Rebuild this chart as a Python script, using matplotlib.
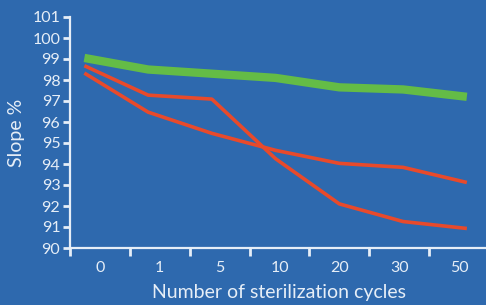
import matplotlib
import matplotlib.pyplot as plt
import numpy as np

matplotlib.rcParams['font.family'] = ['Lato', 'DejaVu Sans']

# ---------------- data ---------------- #
cycles = ['0', '1', '5', '10', '20', '30', '50']
green = [99.05, 98.5, 98.3, 98.1, 97.65, 97.55, 97.2]
red_a = [98.68, 97.28, 97.09, 94.25, 92.1, 91.26, 90.93]
red_b = [98.33, 96.47, 95.46, 94.65, 94.03, 93.84, 93.12]
yticks = list(range(90, 102))

bg = '#2E69AE'
fg = '#E6EEF7'

# ---------------- plot ---------------- #
fig = plt.figure(figsize=(4.86, 3.05), dpi=100, facecolor=bg)
ax = fig.add_axes([70 / 486, 57 / 305, 419 / 486, 231 / 305], facecolor=bg)

# line points sit slightly off the category centres in the original
line_x = np.linspace(-0.26, 6.13, len(cycles))
ax.plot(line_x, green, color='#64BC46', linewidth=6, solid_capstyle='butt')
ax.plot(line_x, red_a, color='#E84A2B', linewidth=2.6, solid_capstyle='butt')
ax.plot(line_x, red_b, color='#E84A2B', linewidth=2.6, solid_capstyle='butt')

ax.set_xlim(-0.5, 6.5)
ax.set_ylim(90, 101)

for s in ['top', 'right']:
    ax.spines[s].set_visible(False)
for s in ['left', 'bottom']:
    ax.spines[s].set_color(fg)
    ax.spines[s].set_linewidth(1.6)

ax.set_yticks(yticks)
ax.set_yticklabels([str(v) for v in yticks])
ax.tick_params(axis='y', colors=fg, length=5, width=2, pad=2, labelsize=11.5)

# tick marks between categories, labels on categories
ax.set_xticks(np.arange(len(cycles)) - 0.5)
ax.set_xticklabels([])
ax.set_xticks(np.arange(len(cycles)), minor=True)
ax.set_xticklabels(cycles, minor=True)
ax.tick_params(axis='x', which='major', colors=fg, length=6, width=2)
ax.tick_params(axis='x', which='minor', colors=fg, length=0, pad=9, labelsize=11.5)

ax.set_ylabel('Slope %', color=fg, fontsize=14, labelpad=5)
ax.set_xlabel('Number of sterilization cycles', color=fg, fontsize=14, labelpad=5)
ax.xaxis.set_label_coords((279 - 70) / 419, -0.155)

fig.savefig('out.png', dpi=100, facecolor=bg)
